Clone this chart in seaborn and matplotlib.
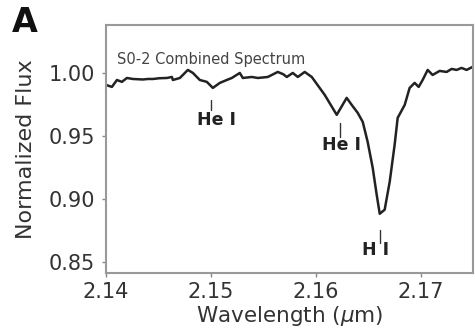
import numpy as np
import pandas as pd
import seaborn as sns
import matplotlib.pyplot as plt

# S0-2 combined spectrum
wavelength = [2.1400, 2.14057, 2.14105, 2.14152, 2.14200, 2.14257, 2.14305, 2.14352,
              2.14400, 2.14448, 2.14510, 2.14581, 2.14629, 2.14638, 2.14705, 2.14781,
              2.14829, 2.14895, 2.14962, 2.15019, 2.15086, 2.15152, 2.15200, 2.15276,
              2.15305, 2.15390, 2.15448, 2.15543, 2.15638, 2.15690, 2.15724, 2.15781,
              2.15829, 2.15895, 2.15962, 2.16086, 2.16200, 2.16295, 2.16343, 2.16400,
              2.16448, 2.16495, 2.16543, 2.16581, 2.16610, 2.16657, 2.16705, 2.16752,
              2.16781, 2.16848, 2.16895, 2.16943, 2.16981, 2.17019, 2.17067, 2.17114,
              2.17181, 2.17248, 2.17295, 2.17343, 2.17390, 2.17438, 2.17495]
flux = [0.9905, 0.9889, 0.9944, 0.9929, 0.9960, 0.9952, 0.9950, 0.9948,
        0.9952, 0.9952, 0.9958, 0.9960, 0.9968, 0.9944, 0.9960, 1.0024,
        1.0000, 0.9944, 0.9929, 0.9881, 0.9921, 0.9944, 0.9960, 1.0000,
        0.9960, 0.9968, 0.9960, 0.9968, 1.0008, 0.9990, 0.9968, 1.0000,
        0.9968, 1.0008, 0.9968, 0.9825, 0.9667, 0.9802, 0.9746, 0.9683,
        0.9611, 0.9452, 0.9246, 0.9032, 0.8881, 0.8913, 0.9135, 0.9429,
        0.9643, 0.9746, 0.9881, 0.9921, 0.9889, 0.9944, 1.0024, 0.9984,
        1.0016, 1.0008, 1.0032, 1.0024, 1.0040, 1.0024, 1.0048]

# line identifications
line_names = ["He I", "He I", "H I"]
line_wl = [2.1500, 2.1623, 2.1661]
tick_lo = [0.9706, 0.9490, 0.8650]
tick_hi = [0.9786, 0.9600, 0.8750]
text_y = [0.9625, 0.9430, 0.8595]
text_dx = [0.0005, 0.0002, -0.0004]

df = pd.DataFrame({"wavelength": wavelength, "flux": flux})

sns.set_style("ticks")
plt.rcParams["font.family"] = ["DejaVu Sans"]

fig = plt.figure(figsize=(4.75, 3.35), dpi=100)
ax = fig.add_axes([0.223, 0.185, 0.773, 0.74])

sns.lineplot(data=df, x="wavelength", y="flux", ax=ax, color="#222222", linewidth=1.8)

for name, w, lo, hi, ty, dx in zip(line_names, line_wl, tick_lo, tick_hi, text_y, text_dx):
    ax.plot([w, w], [lo, hi], color="#333333", linewidth=1.0)
    ax.text(w + dx, ty, name, ha="center", va="center", fontsize=12.5,
            fontweight="bold", color="#222222")

ax.text(0.031, 0.86, "S0-2 Combined Spectrum", transform=ax.transAxes,
        fontsize=10.5, color="#444444", va="center")

ax.set_xlim(2.14, 2.175)
ax.set_ylim(0.841, 1.038)
ax.set_xticks([2.14, 2.15, 2.16, 2.17])
ax.set_yticks([0.85, 0.90, 0.95, 1.00])
ax.set_xticklabels(["2.14", "2.15", "2.16", "2.17"])
ax.set_yticklabels(["0.85", "0.90", "0.95", "1.00"])
ax.tick_params(labelsize=15, colors="#888888", labelcolor="#333333", length=3, width=1)
ax.tick_params(axis="y", pad=5)
for s in ax.spines.values():
    s.set_color("#999999")
    s.set_linewidth(1.5)

ax.set_xlabel("Wavelength ($\\mu$m)", fontsize=15.5, color="#333333")
ax.set_ylabel("Normalized Flux", fontsize=16, color="#333333")
ax.xaxis.set_label_coords(0.5, -0.125)
ax.yaxis.set_label_coords(-0.19, 0.5)

fig.text(0.025, 0.933, "A", fontsize=24, fontweight="bold", color="#111111", va="center")

fig.savefig("out.png", dpi=100)
